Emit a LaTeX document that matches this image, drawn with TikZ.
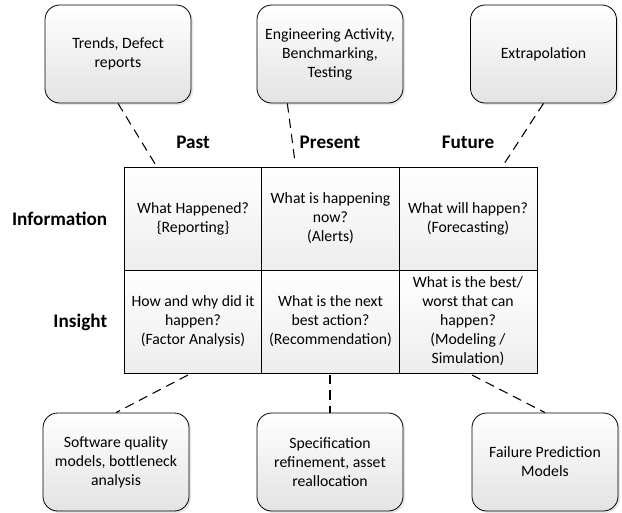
\documentclass[tikz,border=0pt]{standalone}
\usepackage{fontspec}
\setmainfont{Carlito}
\usepackage{tikz}
\usetikzlibrary{shadows}

\begin{document}
\begin{tikzpicture}[x=0.75pt,y=-0.75pt,semithick,
        every node/.style={font=\fontsize{11.8}{14.25}\selectfont,align=center},
        card/.style={draw,rounded corners=11pt,top color=white,bottom color=black!11,
            drop shadow={shadow xshift=1.5pt,shadow yshift=-1.5pt,opacity=0.2},
            minimum width=109.5pt,minimum height=73.5pt,inner sep=0pt},
        cell/.style={draw,top color=white,bottom color=black!7,minimum width=103.5pt,
            minimum height=77.25pt,inner sep=0pt},
        head/.style={font=\fontsize{14.4}{17}\selectfont\bfseries},
        link/.style={dash pattern=on 7pt off 4.5pt,line width=0.8pt}]
    \useasboundingbox (0,0) rectangle (622,512);
    % grid
    \node[cell] (c11) at (193,218.5) {What Happened?\\\{Reporting\}};
    \node[cell] (c12) at (330.5,218.5) {What is happening\\now?\\(Alerts)};
    \node[cell] (c13) at (468,218.5) {What will happen?\\(Forecasting)};
    \node[cell] (c21) at (193,321.5) {How and why did it\\happen?\\(Factor Analysis)};
    \node[cell] (c22) at (330.5,321.5) {What is the next\\best action?\\(Recommendation)};
    \node[cell] (c23) at (468,321.5) {What is the best/\\worst that can\\happen?\\(Modeling /\\Simulation)};
    % headings
    \node[head] (past) at (193,142) {Past};
    \node[head] (present) at (330,142) {Present};
    \node[head] (future) at (468,142) {Future};
    \node[head,anchor=east] (info) at (112,219) {Information};
    \node[head,anchor=east] (insight) at (112,322) {Insight};
    % sources and outcomes
    \node[card] (t1) at (118,54) {Trends, Defect\\reports};
    \node[card] (t2) at (330,54) {Engineering Activity,\\Benchmarking,\\Testing};
    \node[card] (t3) at (543.5,54) {Extrapolation};
    \node[card] (b1) at (116,462) {Software quality\\models, bottleneck\\analysis};
    \node[card] (b2) at (330,462) {Specification\\refinement, asset\\reallocation};
    \node[card] (b3) at (545,462) {Failure Prediction\\Models};
    % ends on the grid
    \coordinate (g1) at (157,167);
    \coordinate (g2) at (295,162);
    \coordinate (g3) at (502,167);
    \coordinate (h1) at (188,375);
    \coordinate (h2) at (330,375);
    \coordinate (h3) at (472,375);
    \path[link]
        (t1.south) edge (g1)
        ([xshift=-32pt]t2.south) edge (g2)
        (t3.south) edge (g3)
        (h1) edge (b1.north)
        (h2) edge (b2.north)
        (h3) edge (b3.north);
\end{tikzpicture}
\end{document}
